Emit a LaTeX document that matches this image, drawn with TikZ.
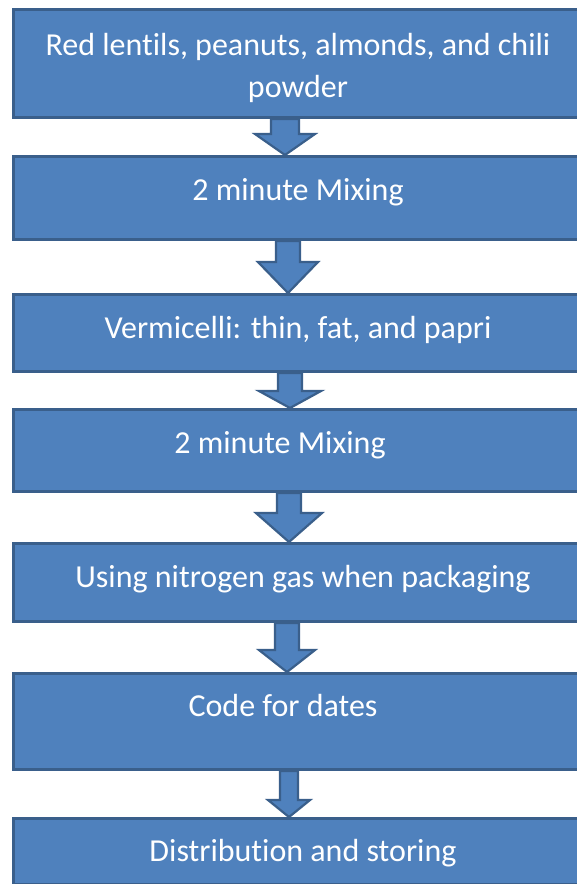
\documentclass[tikz,border=0pt]{standalone}
\usepackage{fontspec}
\setmainfont{Carlito}[Ligatures=NoCommon]
\usetikzlibrary{calc}
\definecolor{boxfill}{HTML}{4F81BD}
\definecolor{boxline}{HTML}{3A5F8B}
\tikzset{
  stagebox/.style={draw=boxline, fill=boxfill, line width=3pt, rectangle, inner sep=0pt, anchor=north west, minimum width=572pt},
  stagetext/.style={text=white, font=\fontsize{32}{42}\selectfont, anchor=base, align=center, inner sep=0pt},
  blockarrow/.style={draw=boxline, fill=boxfill, line width=2.2pt, line join=miter}
}
% #1 from node, #2 to node, #3 x of arrow centre, #4 shaft half width, #5 head half width, #6 head length
\newcommand{\flowarrow}[6]{%
  \draw[blockarrow] let \p1=(#1.south), \p2=(#2.north) in
    (#3pt-#4pt,\y1) -- (#3pt+#4pt,\y1) -- (#3pt+#4pt,\y2+#6pt) -- (#3pt+#5pt,\y2+#6pt)
    -- (#3pt,\y2) -- (#3pt-#5pt,\y2+#6pt) -- (#3pt-#4pt,\y2+#6pt) -- cycle;}
\begin{document}
\begin{tikzpicture}[x=1pt,y=-1pt]
\useasboundingbox (0,0) rectangle (577,884);
\clip (0,0) rectangle (577,884);
\fill[white] (0,0) rectangle (577,884);
\node[stagebox, minimum height=108pt] (b1) at (12,8) {};
\node[stagebox, minimum height=83pt] (b2) at (12,155) {};
\node[stagebox, minimum height=77pt] (b3) at (12,293) {};
\node[stagebox, minimum height=82pt] (b4) at (12,408) {};
\node[stagebox, minimum height=78pt] (b5) at (12,542) {};
\node[stagebox, minimum height=96pt] (b6) at (12,672) {};
\node[stagebox, minimum height=66pt] (b7) at (12,817) {};
\node[stagetext] (t1) at (298,97) {Red lentils, peanuts, almonds, and chili\\powder};
\node[stagetext] (t2) at (298,200) {2 minute Mixing};
\node[stagetext] (t3) at (298,338) {Vermicelli: thin, fat, and papri};
\node[stagetext] (t4) at (280,453) {2 minute Mixing};
\node[stagetext] (t5) at (303,587) {Using nitrogen gas when packaging};
\node[stagetext] (t6) at (283,716) {Code for dates};
\node[stagetext] (t7) at (303,861) {Distribution and storing};
\flowarrow{b1}{b2}{285}{14}{30}{21}
\flowarrow{b2}{b3}{288}{12}{30}{31}
\flowarrow{b3}{b4}{290}{12}{31}{17}
\flowarrow{b4}{b5}{289}{12}{33}{29}
\flowarrow{b5}{b6}{287}{12}{28}{22}
\flowarrow{b6}{b7}{289}{9}{21}{17}
\end{tikzpicture}
\end{document}
